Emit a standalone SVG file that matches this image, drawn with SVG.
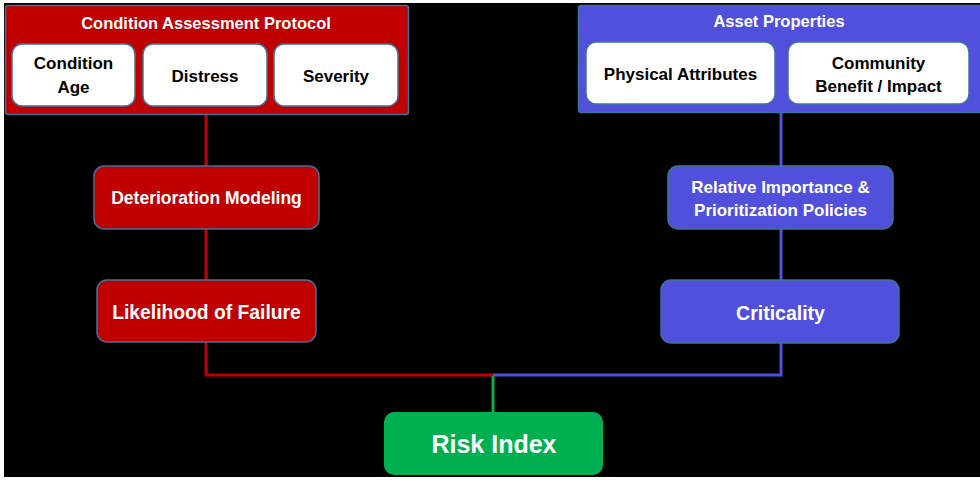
<svg xmlns="http://www.w3.org/2000/svg" width="980" height="480" viewBox="0 0 980 480">
<style>
text{font-family:"Liberation Sans",Arial,sans-serif;font-weight:bold;text-anchor:middle;dominant-baseline:central}
.red{fill:#C00000;stroke:#41719C;stroke-width:1.5}
.blue{fill:#5050DD;stroke:#41719C;stroke-width:1.5}
.white{fill:#FFFFFF;stroke:#41719C;stroke-width:1.5}
.wt{fill:#FFFFFF}
.bt{fill:#000000;font-size:17px}
.ttl{fill:#FFFFFF;font-size:16.5px}
.lr{stroke:#C00000;stroke-width:3;fill:none}
.lb{stroke:#5050DD;stroke-width:3;fill:none}
.lg{stroke:#00B050;stroke-width:3;fill:none}
</style>
<rect x="0" y="0" width="980" height="480" fill="#FFFFFF"/>
<rect x="4" y="3" width="976" height="474" fill="#000000"/>
<g id="connectors">
<path class="lr" d="M206 115 V375 H493"/>
<path class="lb" d="M781 112 V375 H493"/>
<path class="lg" d="M493 376 V412"/>
</g>
<g id="condition-assessment">
<rect class="red" x="5.5" y="5.5" width="403" height="109" rx="3"/>
<text class="ttl" x="206" y="23">Condition Assessment Protocol</text>
</g>
<g id="condition-age">
<rect class="white" x="12" y="44" width="123" height="62" rx="10"/>
<text class="bt" x="73.5" y="63">Condition</text>
<text class="bt" x="73.5" y="87">Age</text>
</g>
<g id="distress">
<rect class="white" x="143" y="44" width="124" height="62" rx="10"/>
<text class="bt" x="205" y="76">Distress</text>
</g>
<g id="severity">
<rect class="white" x="274" y="44" width="124" height="62" rx="10"/>
<text class="bt" x="336" y="76">Severity</text>
</g>
<g id="asset-properties">
<rect class="blue" x="578.5" y="5.5" width="405" height="107" rx="3"/>
<text class="ttl" x="779" y="21">Asset Properties</text>
</g>
<g id="physical-attributes">
<rect class="white" x="586" y="42" width="189" height="62" rx="10"/>
<text class="bt" x="680.5" y="74">Physical Attributes</text>
</g>
<g id="community-benefit">
<rect class="white" x="788" y="42" width="181" height="62" rx="10"/>
<text class="bt" x="878.5" y="63">Community</text>
<text class="bt" x="878.5" y="86">Benefit / Impact</text>
</g>
<g id="deterioration-modeling">
<rect class="red" x="94" y="166" width="225" height="63" rx="10"/>
<text class="wt" x="206.5" y="198" font-size="17.5">Deterioration Modeling</text>
</g>
<g id="likelihood-of-failure">
<rect class="red" x="97" y="280" width="219" height="62" rx="10"/>
<text class="wt" x="206.5" y="312" font-size="19.3">Likelihood of Failure</text>
</g>
<g id="relative-importance">
<rect class="blue" x="668" y="166" width="225" height="63" rx="10"/>
<text class="wt" x="780.5" y="187" font-size="17">Relative Importance &amp;</text>
<text class="wt" x="780.5" y="210" font-size="17">Prioritization Policies</text>
</g>
<g id="criticality">
<rect class="blue" x="661" y="280" width="238" height="63" rx="10"/>
<text class="wt" x="780.5" y="313" font-size="19.5">Criticality</text>
</g>
<g id="risk-index">
<rect x="384" y="412" width="219" height="63" rx="10" fill="#00B050"/>
<text class="wt" x="494" y="444" font-size="25">Risk Index</text>
</g>
</svg>
